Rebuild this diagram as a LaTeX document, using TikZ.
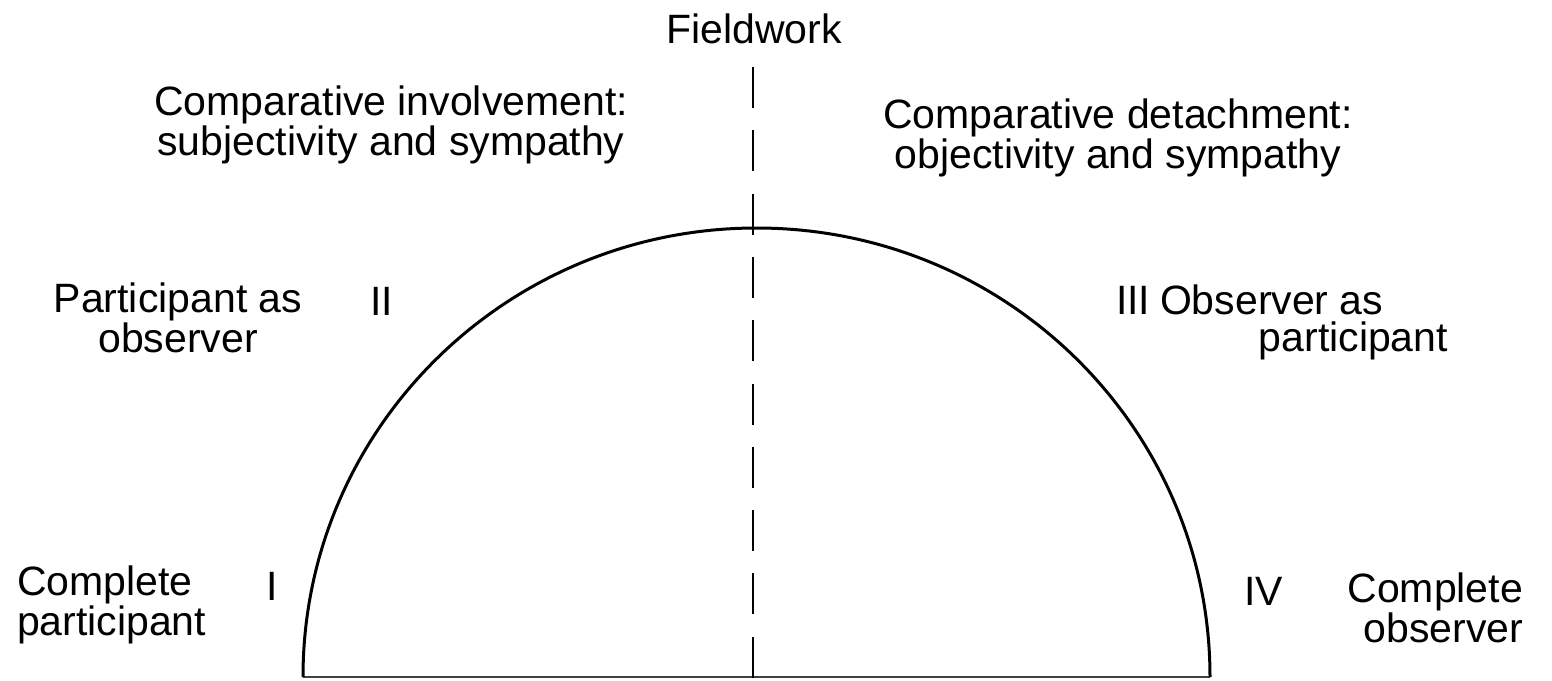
\documentclass[tikz,border=0pt]{standalone}
\usepackage{fontspec}
\setmainfont{Liberation Sans}
\begin{document}
\begin{tikzpicture}[x=1pt,y=1pt,
  lbl/.style={inner sep=0pt,outer sep=0pt,font=\fontsize{41}{37}\selectfont},
  curve/.style={line width=3pt},
  axis/.style={line width=2.8pt,dash pattern=on 41pt off 22.3pt},
  baseln/.style={line width=1.4pt,black!75}]
\useasboundingbox (0,0) rectangle (1552,-680);
% shapes
\coordinate (lf) at (303,-677);
\coordinate (rf) at (1210,-677);
\coordinate (dtop) at (753,-67);
\coordinate (dbot) at (753,-678);
\draw[baseln] (lf) -- (rf);
\draw[curve] (lf) arc[start angle=180,end angle=0,x radius=453.5,y radius=449];
\draw[axis] (dtop) -- (dbot);
% labels (base anchor = baseline of the last line)
\node[lbl,anchor=base] (fw) at (754,-43) {Fieldwork};
\node[lbl,anchor=base,align=center] (inv) at (391,-155) {Comparative involvement:\\subjectivity and sympathy};
\node[lbl,anchor=base,align=center] (det) at (1118,-168) {Comparative detachment:\\objectivity and sympathy};
\node[lbl,anchor=base,align=center] (pao) at (178,-352) {Participant as\\observer};
\node[lbl,anchor=base west] (two) at (370,-315) {II};
\node[lbl,anchor=base west] (three) at (1116,-314) {III};
\node[lbl,anchor=base west] (oap1) at (1160,-314) {Observer as};
\node[lbl,anchor=base east] (oap2) at (1448,-351) {participant};
\node[lbl,anchor=base west,align=left] (cp) at (17,-635) {Complete\\participant};
\node[lbl,anchor=base west] (one) at (266,-600) {I};
\node[lbl,anchor=base west] (four) at (1244,-605) {IV};
\node[lbl,anchor=base east,align=right] (co) at (1523,-642) {Complete\\observer};
\end{tikzpicture}
\end{document}
